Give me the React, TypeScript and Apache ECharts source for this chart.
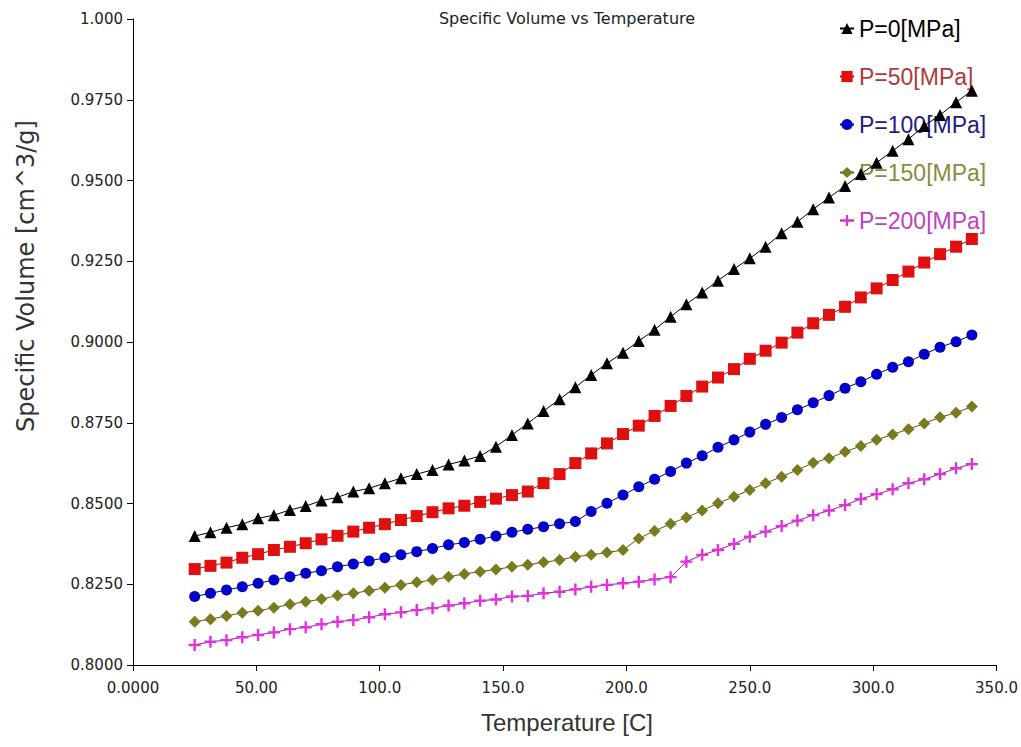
import React, { useEffect, useRef } from "react";
import * as echarts from "echarts";

const temperatures = [
  25.0, 31.4, 37.9, 44.3, 50.7, 57.1, 63.6, 70.0, 76.4, 82.9,
  89.3, 95.7, 102.1, 108.6, 115.0, 121.4, 127.9, 134.3, 140.7, 147.1,
  153.6, 160.0, 166.4, 172.9, 179.3, 185.7, 192.1, 198.6, 205.0, 211.4,
  217.9, 224.3, 230.7, 237.1, 243.6, 250.0, 256.4, 262.9, 269.3, 275.7,
  282.1, 288.6, 295.0, 301.4, 307.9, 314.3, 320.7, 327.1, 333.6, 340.0,
];

const p0 = [
  0.8399, 0.8411, 0.8425, 0.8436, 0.8454, 0.8464, 0.848, 0.8492, 0.8509, 0.8519,
  0.8537, 0.8547, 0.8563, 0.8578, 0.8591, 0.8604, 0.8621, 0.8633, 0.8647, 0.8676,
  0.8712, 0.8748, 0.8786, 0.8823, 0.886, 0.8898, 0.8934, 0.8967, 0.9003, 0.9038,
  0.9078, 0.9117, 0.9153, 0.919, 0.9226, 0.9259, 0.9295, 0.9337, 0.9372, 0.9411,
  0.9447, 0.9483, 0.952, 0.9555, 0.9592, 0.9628, 0.9669, 0.9703, 0.9742, 0.9778,
];

const p50 = [
  0.8297, 0.8307, 0.8317, 0.8332, 0.8343, 0.8356, 0.8366, 0.8377, 0.8389, 0.84,
  0.8413, 0.8425, 0.8436, 0.8449, 0.8461, 0.8473, 0.8485, 0.8493, 0.8505, 0.8515,
  0.8526, 0.8537, 0.8563, 0.8591, 0.8625, 0.8655, 0.8686, 0.8715, 0.8741, 0.8771,
  0.8802, 0.8833, 0.8862, 0.889, 0.8916, 0.8948, 0.8973, 0.8998, 0.9029, 0.9058,
  0.9084, 0.9109, 0.9138, 0.9166, 0.9192, 0.9218, 0.9246, 0.9272, 0.9295, 0.9319,
];

const p100 = [
  0.8212, 0.8222, 0.8232, 0.8242, 0.8253, 0.8263, 0.8273, 0.8284, 0.8292, 0.8304,
  0.8313, 0.8322, 0.8332, 0.8341, 0.8351, 0.8361, 0.8372, 0.8379, 0.8389, 0.8399,
  0.8411, 0.842, 0.8428, 0.8437, 0.8444, 0.8475, 0.8501, 0.8526, 0.8552, 0.8575,
  0.8599, 0.8625, 0.8648, 0.8674, 0.8697, 0.8721, 0.8745, 0.8766, 0.879, 0.8812,
  0.8834, 0.8857, 0.8877, 0.89, 0.8922, 0.8939, 0.8962, 0.8984, 0.9001, 0.9022,
];

const p150 = [
  0.8134, 0.8142, 0.8152, 0.8162, 0.8168, 0.8177, 0.8188, 0.8196, 0.8204, 0.8215,
  0.8222, 0.823, 0.8239, 0.8248, 0.8256, 0.8263, 0.8273, 0.8282, 0.8289, 0.8296,
  0.8304, 0.831, 0.8318, 0.8325, 0.8335, 0.8341, 0.8348, 0.8356, 0.8392, 0.8415,
  0.8437, 0.8457, 0.8478, 0.8501, 0.8521, 0.8542, 0.8563, 0.8583, 0.8604, 0.8626,
  0.864, 0.866, 0.8678, 0.8697, 0.8714, 0.873, 0.8748, 0.8767, 0.8781, 0.88,
];

const p200 = [
  0.8062, 0.8072, 0.8077, 0.8086, 0.8093, 0.8101, 0.8111, 0.8117, 0.8126, 0.8134,
  0.8139, 0.8148, 0.8157, 0.8163, 0.817, 0.8176, 0.8184, 0.8191, 0.8199, 0.8203,
  0.8212, 0.8214, 0.8222, 0.8227, 0.8234, 0.8242, 0.8248, 0.8253, 0.8258, 0.8265,
  0.8272, 0.832, 0.8341, 0.8356, 0.8375, 0.8397, 0.8413, 0.843, 0.8447, 0.8464,
  0.8478, 0.8495, 0.8514, 0.8529, 0.8544, 0.8563, 0.8575, 0.8591, 0.8609, 0.8622,
];

const seriesNames = ["P=0[MPa]", "P=50[MPa]", "P=100[MPa]", "P=150[MPa]", "P=200[MPa]"];
const xTickLabels = ["0.0000", "50.00", "100.0", "150.0", "200.0", "250.0", "300.0", "350.0"];
const yTickLabels = ["0.8000", "0.8250", "0.8500", "0.8750", "0.9000", "0.9250", "0.9500", "0.9750", "1.000"];

const CROSS = "path://M4,0H6V4H10V6H6V10H4V6H0V4H4Z";

export default function App() {
  const ref = useRef<HTMLDivElement>(null);
  useEffect(() => {
    if (!ref.current) return;
    const chart = echarts.init(ref.current, undefined, { renderer: "svg" });
    const values = [p0, p50, p100, p150, p200];
    const colors = ["#000000", "#e01010", "#0000c8", "#7a7a1e", "#e030e0"];
    const lineColors = ["#000000", "#a01010", "#000080", "#5a5a10", "#a020a0"];
    const textColors = ["#000000", "#b03a3a", "#202080", "#8a8a40", "#c040c0"];
    const symbols = ["triangle", "rect", "circle", "diamond", CROSS];
    const sizes = [12, 12, 11, 12, 12];
    const font = "Liberation Sans, Arial, sans-serif";
    const wide = "DejaVu Sans, sans-serif";

    chart.setOption({
      animation: false,
      backgroundColor: "#ffffff",
      grid: { left: 133, right: 19, top: 19, bottom: 82, containLabel: false },
      legend: {
        orient: "vertical",
        left: 834,
        top: 12,
        itemWidth: 14,
        itemHeight: 14,
        itemGap: 25,
        textStyle: { fontSize: 23, fontFamily: font },
        data: seriesNames.map((n, i) => ({ name: n, textStyle: { color: textColors[i] } })),
      },
      xAxis: {
        type: "value",
        min: 0,
        max: 350,
        interval: 50,
        axisLine: { show: true, onZero: false, lineStyle: { color: "#000", width: 1 } },
        axisTick: { show: true, length: 6, lineStyle: { color: "#000" } },
        splitLine: { show: false },
        axisLabel: {
          color: "#222",
          fontSize: 15,
          fontFamily: wide,
          margin: 15,
          formatter: (v: number) => xTickLabels[Math.round(v / 50)] ?? "",
        },
      },
      yAxis: {
        type: "value",
        min: 0.8,
        max: 1.0,
        interval: 0.025,
        axisLine: { show: true, onZero: false, lineStyle: { color: "#000", width: 1 } },
        axisTick: { show: true, length: 6, lineStyle: { color: "#000" } },
        splitLine: { show: false },
        axisLabel: {
          color: "#222",
          fontSize: 15,
          fontFamily: wide,
          margin: 10,
          formatter: (v: number) => yTickLabels[Math.round((v - 0.8) / 0.025)] ?? "",
        },
      },
      graphic: [
        {
          type: "text",
          x: 567,
          y: 18,
          style: {
            text: "Specific Volume vs Temperature",
            fontSize: 16,
            fontFamily: wide,
            fill: "#222",
            align: "center",
            verticalAlign: "middle",
          },
        },
        {
          type: "text",
          x: 567,
          y: 722,
          style: {
            text: "Temperature [C]",
            fontSize: 24,
            fontFamily: font,
            fill: "#333",
            align: "center",
            verticalAlign: "middle",
          },
        },
        {
          type: "text",
          x: 26,
          y: 276,
          rotation: Math.PI / 2,
          style: {
            text: "Specific Volume [cm^3/g]",
            fontSize: 24,
            fontFamily: wide,
            fill: "#333",
            align: "center",
            verticalAlign: "middle",
          },
        },
      ],
      series: values.map((vals, i) => ({
        name: seriesNames[i],
        type: "line",
        data: temperatures.map((t, j) => [t, vals[j]]),
        symbol: symbols[i],
        symbolSize: sizes[i],
        showSymbol: true,
        itemStyle: { color: colors[i] },
        lineStyle: { color: lineColors[i], width: 1 },
        z: 10 - i,
      })),
    });
    return () => chart.dispose();
  }, []);
  return (
    <div
      ref={ref}
      style={{ position: "fixed", left: 0, top: 0, width: 1021, height: 747, background: "#fff" }}
    />
  );
}
